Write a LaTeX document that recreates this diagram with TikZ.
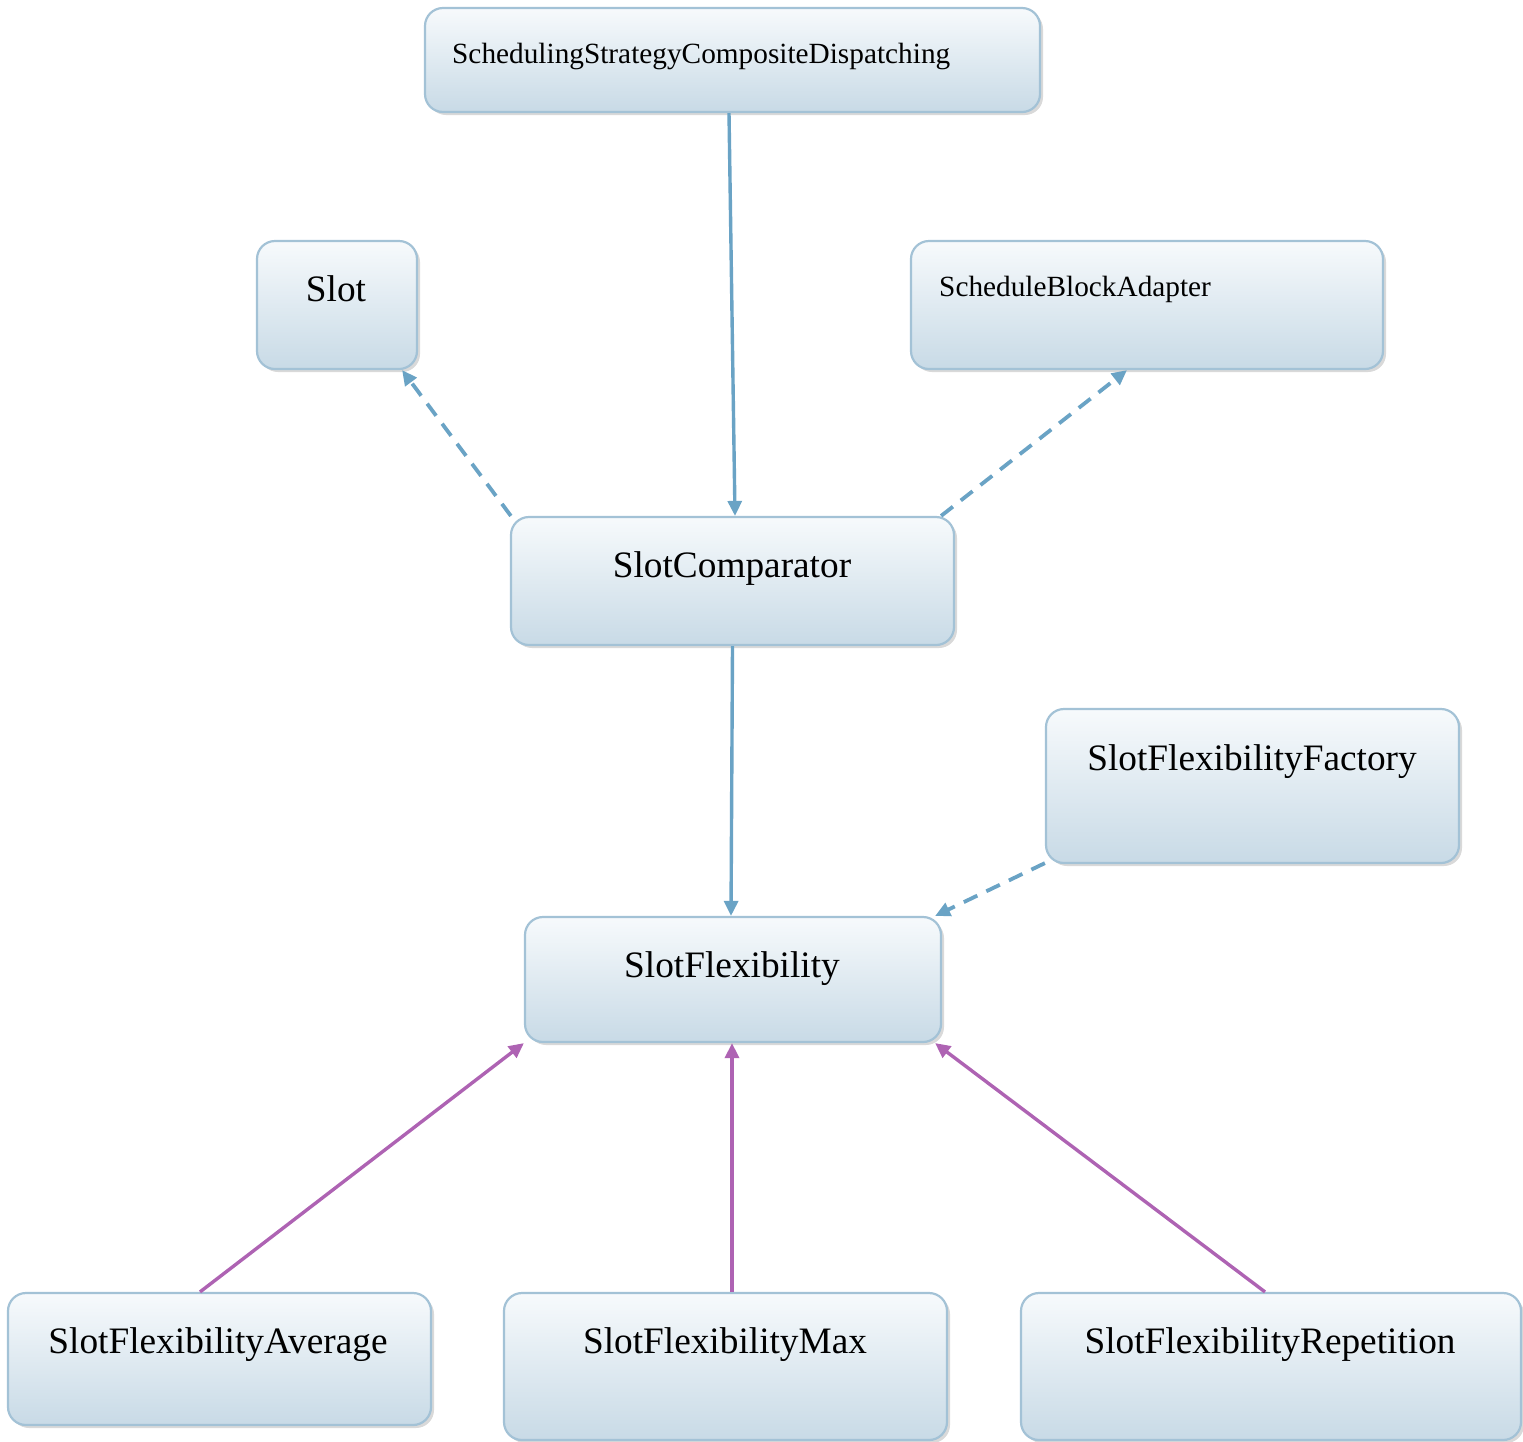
\documentclass[tikz,border=0pt]{standalone}
\usepackage{fontspec}
\setmainfont{Liberation Serif}
\usetikzlibrary{arrows.meta,shadows,calc}

\definecolor{boxedge}{HTML}{A3C2D6}
\definecolor{boxtop}{HTML}{F7FAFC}
\definecolor{boxbottom}{HTML}{C8DAE6}
\definecolor{linkblue}{HTML}{6AA3C5}
\definecolor{linkpurple}{HTML}{AE63B3}

\tikzset{
  box/.style={rectangle, rounded corners=18pt, draw=boxedge, line width=2.2pt,
    top color=boxtop, bottom color=boxbottom, inner sep=0pt,
    drop shadow={shadow xshift=3pt, shadow yshift=-3pt, opacity=0.3, fill=gray}},
  bigtext/.style={font=\fontsize{37.3}{41}\selectfont, inner sep=0pt},
  smalltext/.style={font=\fontsize{29.3}{32}\selectfont, inner sep=0pt},
  tip/.style={-{Triangle[length=15pt,width=14pt]}},
  uses/.style={tip, draw=linkblue, line width=3.4pt},
  depends/.style={tip, draw=linkblue, line width=3.8pt, dash pattern=on 15pt off 10pt},
  extends/.style={tip, draw=linkpurple, line width=3.4pt},
}

\begin{document}
\begin{tikzpicture}[x=1pt, y=-1pt]
  \useasboundingbox (0,0) rectangle (1523,1441);

  % class boxes
  \node[box, minimum width=615pt, minimum height=104pt] (ssd) at (732.5,60) {};
  \node[box, minimum width=160pt, minimum height=128pt] (slot) at (337,305) {};
  \node[box, minimum width=472pt, minimum height=128pt] (sba) at (1147,305) {};
  \node[box, minimum width=443pt, minimum height=128pt] (cmp) at (732.5,581) {};
  \node[box, minimum width=413pt, minimum height=154pt] (sff) at (1252.5,786) {};
  \node[box, minimum width=416pt, minimum height=125pt] (sf) at (733,979.5) {};
  \node[box, minimum width=423pt, minimum height=132pt] (sfa) at (219.5,1359) {};
  \node[box, minimum width=443pt, minimum height=147pt] (sfm) at (725.5,1366.5) {};
  \node[box, minimum width=500pt, minimum height=147pt] (sfr) at (1271,1366.5) {};

  % class names
  \node[smalltext, anchor=base west] (ssd-t) at (452,63) {SchedulingStrategyCompositeDispatching};
  \node[bigtext, anchor=base] (slot-t) at (336,301) {Slot};
  \node[smalltext, anchor=base west] (sba-t) at (939,296) {ScheduleBlockAdapter};
  \node[bigtext, anchor=base] (cmp-t) at (732,577) {SlotComparator};
  \node[bigtext, anchor=base] (sff-t) at (1252,770) {SlotFlexibilityFactory};
  \node[bigtext, anchor=base] (sf-t) at (732,977) {SlotFlexibility};
  \node[bigtext, anchor=base] (sfa-t) at (218,1353) {SlotFlexibilityAverage};
  \node[bigtext, anchor=base] (sfm-t) at (725,1353) {SlotFlexibilityMax};
  \node[bigtext, anchor=base] (sfr-t) at (1270,1353) {SlotFlexibilityRepetition};

  % associations
  \draw[uses] ($(ssd.south)+(-3.5,0)$) -- ($(cmp.north)+(2.5,0)$);
  \draw[uses] (cmp.south) -- ($(sf.north)+(-2,0)$);

  % dependencies
  \draw[depends] ($(cmp.north west)+(1,0)$) -- ($(slot.south east)+(-16,0)$);
  \draw[depends] ($(cmp.north east)+(-14,0)$) -- ($(sba.south)+(-20,0)$);
  \draw[depends] ($(sff.south west)+(0,-1)$) -- ($(sf.north east)+(-7,0)$);

  % generalizations
  \draw[extends] ($(sfa.north)+(-19.5,0)$) -- (sf.south west);
  \draw[extends] ($(sfm.north)+(6.5,0)$) -- ($(sf.south)+(-1,0)$);
  \draw[extends] ($(sfr.north)+(-6,0)$) -- ($(sf.south east)+(-7,0)$);
\end{tikzpicture}
\end{document}
